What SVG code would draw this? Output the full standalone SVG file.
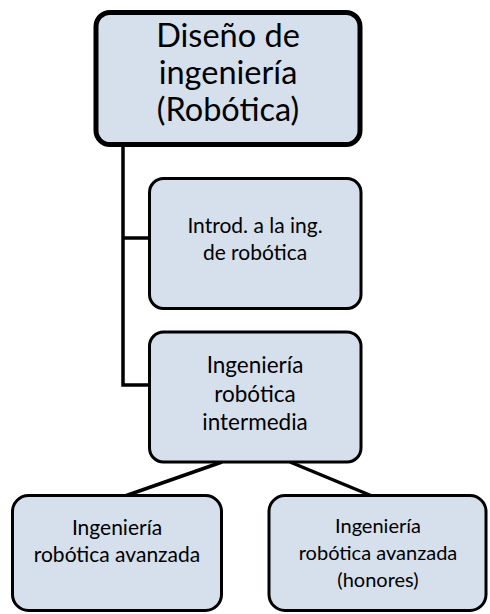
<svg xmlns="http://www.w3.org/2000/svg" width="490" height="614" viewBox="0 0 490 614">
<style>
.box{fill:#d6dfec;stroke:#000;stroke-width:3}
.main{stroke-width:5}
.t{font-family:Lato,"Open Sans","Liberation Sans",sans-serif;fill:#000;text-anchor:middle}
.con{fill:none;stroke:#000;stroke-width:3.5}
</style>
<rect width="490" height="614" fill="#fff"/>
<g id="connectors">
<polyline class="con" points="123,146 123,385 149,385"/>
<line class="con" x1="123" y1="238" x2="149" y2="238"/>
<line class="con" x1="222" y1="462" x2="125" y2="496"/>
<line class="con" x1="290" y1="462" x2="372" y2="496"/>
</g>
<g id="n-diseno">
<rect class="box main" x="96" y="12.5" width="264" height="132" rx="14"/>
<text class="t" font-size="32.5"><tspan x="228" y="47">Diseño de</tspan><tspan x="228" y="84">ingeniería</tspan><tspan x="228" y="121">(Robótica)</tspan></text>
</g>
<g id="n-introd">
<rect class="box" x="149.5" y="178.5" width="211.5" height="130" rx="14"/>
<text class="t" font-size="21"><tspan x="255" y="233">Introd. a la ing.</tspan><tspan x="255" y="260">de robótica</tspan></text>
</g>
<g id="n-intermedia">
<rect class="box" x="149.5" y="332" width="211.5" height="130" rx="14"/>
<text class="t" font-size="22.5"><tspan x="255" y="373">Ingeniería</tspan><tspan x="255" y="402">robótica</tspan><tspan x="255" y="430">intermedia</tspan></text>
</g>
<g id="n-avanzada">
<rect class="box" x="12.5" y="495.5" width="209" height="115" rx="16"/>
<text class="t" font-size="21"><tspan x="117" y="535">Ingeniería</tspan><tspan x="117" y="562">robótica avanzada</tspan></text>
</g>
<g id="n-honores">
<rect class="box" x="269" y="495.5" width="217" height="115" rx="16"/>
<text class="t" font-size="20"><tspan x="378" y="533">Ingeniería</tspan><tspan x="378" y="560">robótica avanzada</tspan><tspan x="378" y="587">(honores)</tspan></text>
</g>
</svg>
